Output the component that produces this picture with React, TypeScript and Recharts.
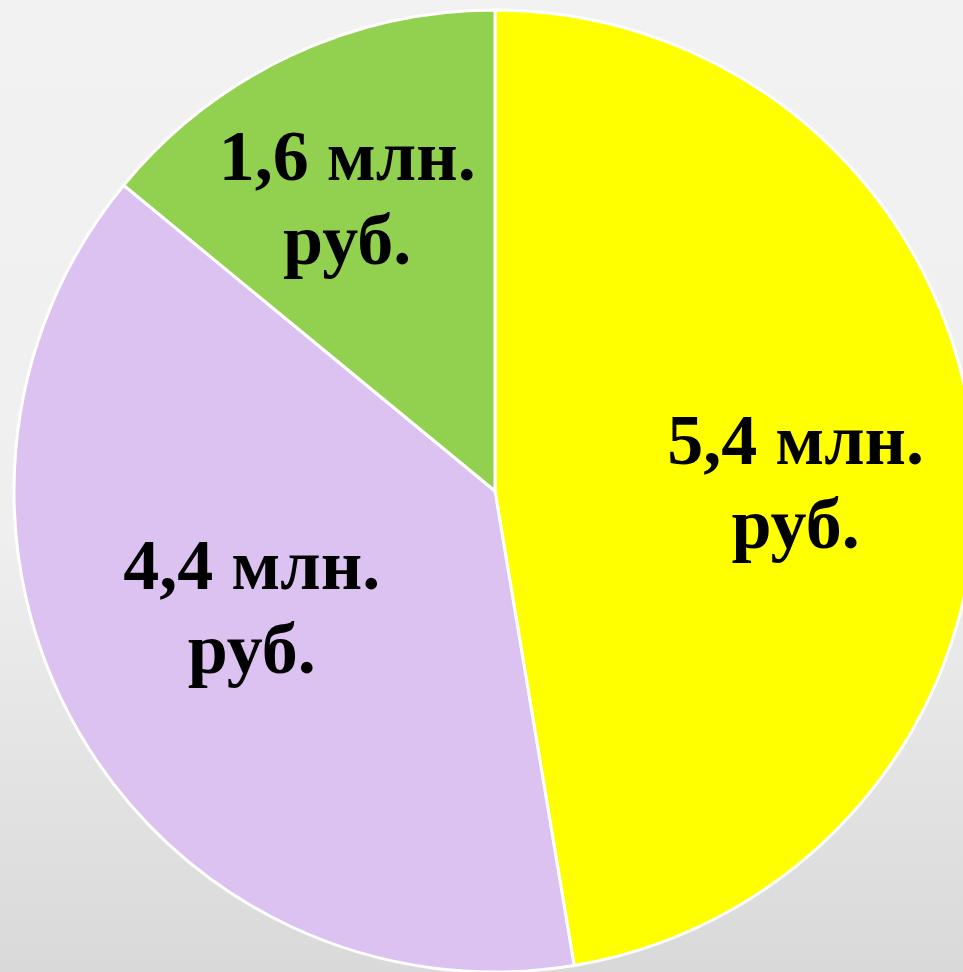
import { PieChart, Pie, Cell } from "recharts";

// ─── Data ─────────────────────────────────────────────────────────────────────

const categories = ["A", "B", "C"];
const values = [5.4, 4.4, 1.6];
const unitLine1 = " млн.";
const unitLine2 = "руб.";

const COLORS = ["#FFFF00", "#DBC2F1", "#92D050"];

// label placement tweaks per slice (radius fraction, dx, dy)
const LABEL_R = [0.625, 0.56, 0.686];
const LABEL_NUDGE: [number, number][] = [[1, 15], [-10, -20], [-7, 4]];

const W = 963;
const H = 972;
const CX = 495;
const CY = 491;
const R = 481;

const data = categories.map((name, i) => ({ name, value: values[i] }));

const fmt = (v: number) => String(v).replace(".", ",");

const RAD = Math.PI / 180;

function SliceLabel(props: any) {
    const { cx, cy, midAngle, outerRadius, index, value } = props;
    const r = outerRadius * LABEL_R[index];
    const x = cx + r * Math.cos(-midAngle * RAD) + LABEL_NUDGE[index][0];
    const y = cy + r * Math.sin(-midAngle * RAD) + LABEL_NUDGE[index][1];
    const base1 = y - 17;
    return (
        <text
            x={x}
            y={base1}
            textAnchor="middle"
            fill="#000"
            fontFamily='"Liberation Serif", "Times New Roman", serif'
            fontWeight="bold"
            fontSize={72}
        >
            <tspan x={x} y={base1}>{fmt(value) + unitLine1}</tspan>
            <tspan x={x} y={base1 + 84}>{unitLine2}</tspan>
        </text>
    );
}

export default function App() {
    return (
        <div
            style={{
                position: "absolute",
                left: 0,
                top: 0,
                width: W,
                height: H,
                overflow: "hidden",
                background: "linear-gradient(180deg, #f2f2f2 0%, #efefef 55%, #d9d9d9 100%)",
            }}
        >
            <PieChart width={W} height={H} margin={{ top: 0, right: 0, bottom: 0, left: 0 }}>
                <Pie
                    data={data}
                    dataKey="value"
                    nameKey="name"
                    cx={CX}
                    cy={CY}
                    outerRadius={R}
                    startAngle={90}
                    endAngle={-270}
                    stroke="#ffffff"
                    strokeWidth={3}
                    label={SliceLabel}
                    labelLine={false}
                    isAnimationActive={false}
                >
                    {data.map((d, i) => (
                        <Cell key={d.name} fill={COLORS[i]} />
                    ))}
                </Pie>
            </PieChart>
        </div>
    );
}
